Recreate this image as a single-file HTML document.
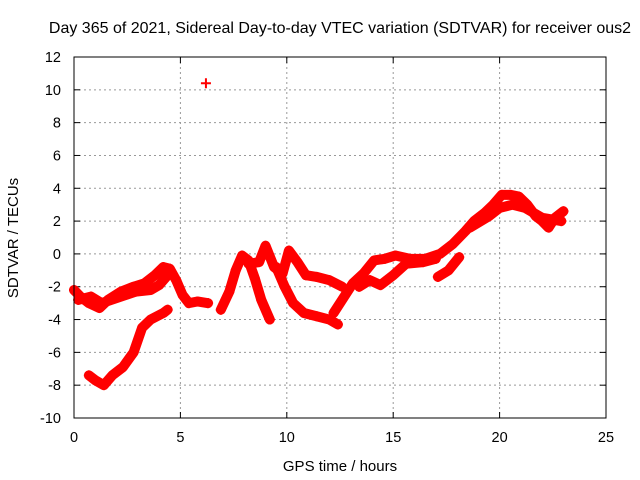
<!DOCTYPE html>
<html><head><meta charset="utf-8"><style>
body{margin:0;background:#fff}
svg{display:block;font-family:"Liberation Sans",sans-serif}
</style></head><body>
<svg id="chart" width="640" height="480" viewBox="0 0 640 480" xmlns="http://www.w3.org/2000/svg">
<rect width="640" height="480" fill="#fff"/>
<text x="340" y="33" font-size="16" text-anchor="middle">Day 365 of 2021, Sidereal Day-to-day VTEC variation (SDTVAR) for receiver ous2</text>
<text x="340" y="471" font-size="15" text-anchor="middle">GPS time / hours</text>
<text x="0" y="0" font-size="15" text-anchor="middle" transform="translate(18,238) rotate(-90)">SDTVAR / TECUs</text>
<g id="grid"></g>
<g id="marks"></g>
<rect x="74" y="57" width="532" height="361" fill="none" stroke="#000" stroke-width="1"/>
</svg>
<script>
const xTicks=[0,5,10,15,20,25];
const yTicks=[-10,-8,-6,-4,-2,0,2,4,6,8,10,12];
const seriesMainA=[[0,-2.2],[0.3,-2.6],[0.7,-3.0],[1.2,-3.3],[1.6,-2.8],[2.2,-2.3],[2.8,-2.0],[3.3,-1.8],[3.8,-1.3],[4.2,-0.8],[4.5,-0.9],[4.8,-1.6],[5.1,-2.5],[5.4,-3.0],[5.8,-2.9],[6.3,-3.0]];
const seriesMainB=[[0.2,-2.8],[0.8,-2.6],[1.3,-3.0],[2.9,-2.3],[3.6,-2.2],[4.0,-1.9],[4.4,-1.3]];
const seriesPeak=[[6.9,-3.4],[7.3,-2.3],[7.6,-1.0],[7.9,-0.1],[8.2,-0.4],[8.5,-1.5],[8.8,-2.8],[9.2,-4.0]];
const seriesNoisy=[[8.2,-0.6],[8.7,-0.5],[9.0,0.5],[9.4,-0.8],[9.8,-1.2],[10.1,0.2],[10.5,-0.5],[10.9,-1.3],[11.4,-1.4],[12.0,-1.6],[12.6,-2.0]];
const seriesDip=[[9.5,-0.8],[9.9,-2.0],[10.3,-3.0],[10.8,-3.6],[11.4,-3.8],[12.0,-4.0],[12.4,-4.3]];
const seriesRise=[[12.2,-3.6],[12.7,-2.6],[13.1,-1.8],[13.6,-1.2],[14.1,-0.4],[14.6,-0.3],[15.1,-0.1],[15.8,-0.3],[16.5,-0.3],[17.2,0.0],[17.8,0.6],[18.4,1.4],[18.8,2.0],[19.3,2.5],[19.7,3.0],[20.1,3.6],[20.5,3.6],[20.9,3.5],[21.3,3.0],[21.7,2.3],[22.0,2.0],[22.3,1.6],[22.6,2.2],[23.0,2.6]];
const seriesRiseB=[[13.4,-2.0],[13.9,-1.6],[14.4,-1.9],[15.0,-1.3],[15.6,-0.6],[16.4,-0.5],[17.0,-0.3]];
const seriesRiseC=[[18.6,1.6],[19.5,2.3],[20.0,2.8],[20.6,3.0],[21.2,2.8],[22.0,2.2],[22.9,2.0]];
const seriesSide=[[17.1,-1.4],[17.6,-1.0],[18.1,-0.2]];
const seriesLow=[[0.7,-7.4],[1.0,-7.7],[1.4,-8.0],[1.8,-7.4],[2.3,-6.9],[2.8,-6.0],[3.2,-4.5],[3.6,-4.0],[4.2,-3.6],[4.4,-3.4]];
const seriesOutlier=[[6.2,10.4]];

const NS="http://www.w3.org/2000/svg";
const X0=74,X1=606,Y0=418,Y1=57;
function xs(t){return X0+(t-0)/(25-0)*(X1-X0);}
function ys(v){return Y0-(v-(-10))/(12-(-10))*(Y0-Y1);}
const grid=document.getElementById('grid');
const svg=document.getElementById('chart');
function mk(tag,attrs,parent){const e=document.createElementNS(NS,tag);for(const k in attrs)e.setAttribute(k,attrs[k]);parent.appendChild(e);return e;}
xTicks.forEach(t=>{
  const x=xs(t);
  if(t>0&&t<25){const g=mk('line',{x1:x,x2:x,y1:Y1,y2:Y0,stroke:'#999','stroke-dasharray':'2,3'},grid);
  
  }
  mk('line',{x1:x,x2:x,y1:Y0,y2:Y0-6,stroke:'#000'},grid);
  mk('line',{x1:x,x2:x,y1:Y1,y2:Y1+6,stroke:'#000'},grid);
  const l=mk('text',{x:x,y:Y0+24,'font-size':'14.5','text-anchor':'middle'},svg);
  l.textContent=t;
  
  
});
yTicks.forEach(v=>{
  const y=ys(v);
  if(v>-10&&v<12){const g=mk('line',{x1:X0,x2:X1,y1:y,y2:y,stroke:'#999','stroke-dasharray':'2,3'},grid);
  
  }
  mk('line',{x1:X0,x2:X0+6,y1:y,y2:y,stroke:'#000'},grid);
  mk('line',{x1:X1,x2:X1-6,y1:y,y2:y,stroke:'#000'},grid);
  const l=mk('text',{x:X0-13,y:y+5,'font-size':'14.5','text-anchor':'end'},svg);
  l.textContent=v;
  
  
});
const marks=document.getElementById('marks');
const all=[seriesMainA,seriesMainB,seriesPeak,seriesNoisy,seriesDip,seriesRise,seriesRiseB,seriesRiseC,seriesSide,seriesLow,seriesOutlier];
all.forEach(s=>{
  if(s.length>1){
    const p=mk('polyline',{points:s.map(d=>xs(d[0])+','+ys(d[1])).join(' '),fill:'none',stroke:'#ff0000','stroke-width':10,'stroke-linejoin':'round','stroke-linecap':'round'},marks);
    
    
  }
  s.forEach(d=>{
    const x=xs(d[0]),y=ys(d[1]);
    const pt=mk('path',{d:`M${x-5},${y}H${x+5}M${x},${y-5}V${y+5}`,stroke:'#ff0000','stroke-width':2},marks);
    
    
  });
});
</script>
</body></html>
